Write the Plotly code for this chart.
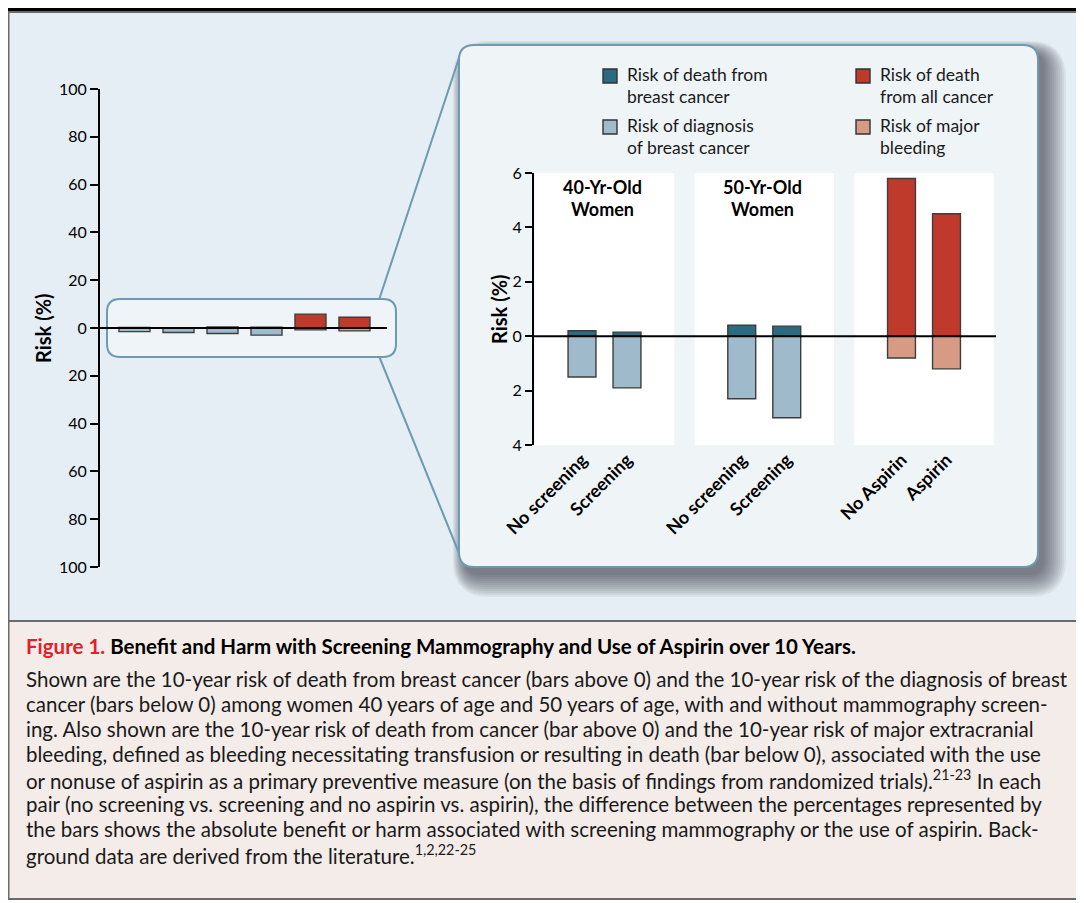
import plotly.graph_objects as go

# page offset of the plot div (default body margin) and figure size
OX, OY = 8, 8
W, H = 1076, 895

# ---------------- data ----------------
categories = ["No screening", "Screening", "No screening", "Screening", "No Aspirin", "Aspirin"]
group_of_bar = [0, 0, 1, 1, 2, 2]
group_titles = [["40-Yr-Old", "Women"], ["50-Yr-Old", "Women"]]
death_risk = [0.2, 0.15, 0.4, 0.37, 5.8, 4.5]        # bars above 0 (%)
harm_risk = [1.5, 1.9, 2.3, 3.0, 0.8, 1.2]           # bars below 0 (%)
legend_labels = [["Risk of death from", "breast cancer"],
                 ["Risk of diagnosis", "of breast cancer"],
                 ["Risk of death", "from all cancer"],
                 ["Risk of major", "bleeding"]]
left_ticks = [-100, -80, -60, -40, -20, 0, 20, 40, 60, 80, 100]
right_ticks = [-4, -2, 0, 2, 4, 6]
caption_title = "Benefit and Harm with Screening Mammography and Use of Aspirin over 10 Years."
caption_lines = [
    "Shown are the 10-year risk of death from breast cancer (bars above 0) and the 10-year risk of the diagnosis of breast",
    "cancer (bars below 0) among women 40 years of age and 50 years of age, with and without mammography screen-",
    "ing. Also shown are the 10-year risk of death from cancer (bar above 0) and the 10-year risk of major extracranial",
    "bleeding, defined as bleeding necessitating transfusion or resulting in death (bar below 0), associated with the use",
    "or nonuse of aspirin as a primary preventive measure (on the basis of findings from randomized trials).<sup>21-23</sup> In each",
    "pair (no screening vs. screening and no aspirin vs. aspirin), the difference between the percentages represented by",
    "the bars shows the absolute benefit or harm associated with screening mammography or the use of aspirin. Back-",
    "ground data are derived from the literature.<sup>1,2,22-25</sup>",
]

# ---------------- styles ----------------
FONT = "Lato"
TEAL = "#2a6b80"
LBLUE = "#9fbaca"
RED = "#bf3a2a"
SALMON = "#d69a85"
OUTLINE = "#3d3d3d"
BORDER = "#6e9ab0"
BG = "#e5eef4"
PANEL = "#eff4f7"
CAPBG = "#f4ece8"

def px(x):
    return (x - OX) / W

def py(y):
    return 1 - (y - OY) / H

def rrect(x0, y0, x1, y1, r):
    pts = [("M", [(x0 + r, y0)]), ("L", [(x1 - r, y0)]), ("Q", [(x1, y0), (x1, y0 + r)]),
           ("L", [(x1, y1 - r)]), ("Q", [(x1, y1), (x1 - r, y1)]), ("L", [(x0 + r, y1)]),
           ("Q", [(x0, y1), (x0, y1 - r)]), ("L", [(x0, y0 + r)]), ("Q", [(x0, y0), (x0 + r, y0)])]
    s = ""
    for cmd, ps in pts:
        s += cmd + " " + " ".join(f"{px(a):.5f},{py(b):.5f}" for a, b in ps) + " "
    return s + "Z"

up_colors = [TEAL if g < 2 else RED for g in group_of_bar]
down_colors = [LBLUE if g < 2 else SALMON for g in group_of_bar]

# positions (layout): left chart evenly spaced, right chart grouped
left_pos = list(range(len(categories)))
GSTEP = 3.55
right_pos = [g * GSTEP + (i % 2) for i, g in enumerate(group_of_bar)]

fig = go.Figure()
for xa, ya, pos, wd in [("x", "y", left_pos, 0.705), ("x2", "y2", right_pos, 0.62)]:
    fig.add_trace(go.Bar(x=pos, y=death_risk, xaxis=xa, yaxis=ya, width=wd,
                         marker=dict(color=up_colors, line=dict(color=OUTLINE, width=1.4))))
    fig.add_trace(go.Bar(x=pos, y=[-v for v in harm_risk], xaxis=xa, yaxis=ya, width=wd,
                         marker=dict(color=down_colors, line=dict(color=OUTLINE, width=1.4))))

shapes = []
# backgrounds
shapes.append(dict(type="rect", xref="paper", yref="paper", x0=px(8), x1=px(1095), y0=py(621), y1=py(12),
                   fillcolor=BG, line=dict(width=0), layer="below"))
shapes.append(dict(type="rect", xref="paper", yref="paper", x0=px(8), x1=px(1095), y0=py(899), y1=py(621),
                   fillcolor=CAPBG, line=dict(width=0), layer="below"))
shapes.append(dict(type="rect", xref="paper", yref="paper", x0=px(8.5), x1=px(1095), y0=py(899), y1=py(12),
                   line=dict(color="#6a6a6a", width=2), layer="below"))
shapes.append(dict(type="line", xref="paper", yref="paper", x0=px(8), x1=px(1095), y0=py(621), y1=py(621),
                   line=dict(color="#6a6a6a", width=2), layer="below"))
shapes.append(dict(type="line", xref="paper", yref="paper", x0=px(8), x1=px(1095), y0=py(9.5), y1=py(9.5),
                   line=dict(color="black", width=3), layer="below"))
# right panel shadow (layered soft rectangles, mostly to the lower right)
PX0, PY0, PX1, PY1 = 459, 45, 1038, 567
for k in range(12):
    e = 2.0 * k
    shapes.append(dict(type="path", xref="paper", yref="paper",
                       path=rrect(PX0 + 6 - 0.55 * e, PY0 + 8 - 0.55 * e, PX1 + 6 + e, PY1 + 8 + e, 15 + e),
                       fillcolor="rgba(45,52,60,0.065)", line=dict(width=0), layer="below"))
# connector lines
shapes.append(dict(type="line", xref="paper", yref="paper", x0=px(379), y0=py(300), x1=px(461), y1=py(52),
                   line=dict(color=BORDER, width=2), layer="below"))
shapes.append(dict(type="line", xref="paper", yref="paper", x0=px(379), y0=py(356), x1=px(461), y1=py(558),
                   line=dict(color=BORDER, width=2), layer="below"))
# left zoom box
shapes.append(dict(type="path", xref="paper", yref="paper", path=rrect(107, 299, 396, 357, 13),
                   fillcolor="#eef4f8", line=dict(color=BORDER, width=2), layer="below"))
# right panel
shapes.append(dict(type="path", xref="paper", yref="paper", path=rrect(PX0, PY0, PX1, PY1, 15),
                   fillcolor=PANEL, line=dict(color=BORDER, width=2), layer="below"))
# white group panels
for g in range(3):
    c = g * GSTEP + 0.5
    shapes.append(dict(type="rect", xref="x2", yref="y2", x0=max(c - 1.55, -1.0667), x1=c + 1.55,
                       y0=right_ticks[0], y1=right_ticks[-1], fillcolor="white", line=dict(width=0),
                       layer="below"))
# zero lines
shapes.append(dict(type="line", xref="x domain", yref="y", x0=0, x1=1, y0=0, y1=0,
                   line=dict(color="black", width=2), layer="above"))
shapes.append(dict(type="line", xref="x2 domain", yref="y2", x0=0, x1=1, y0=0, y1=0,
                   line=dict(color="black", width=2), layer="above"))
# legend squares
leg_colors = [TEAL, LBLUE, RED, SALMON]
leg_pos = [(603, 69), (603, 120), (856, 69), (856, 120)]
for (lx, ly), col in zip(leg_pos, leg_colors):
    shapes.append(dict(type="rect", xref="paper", yref="paper", x0=px(lx), x1=px(lx + 14),
                       y0=py(ly + 14), y1=py(ly), fillcolor=col, line=dict(color="#333333", width=1.4),
                       layer="above"))

annotations = []
for (lx, ly), lines in zip(leg_pos, legend_labels):
    for k, t in enumerate(lines):
        annotations.append(dict(xref="paper", yref="paper", x=px(lx + 22), y=py(ly + 6 + 21.5 * k), text=t,
                                showarrow=False, xanchor="left", yanchor="middle",
                                font=dict(family=FONT, size=17.5, color="#1a1a1a")))
for g, lines in enumerate(group_titles):
    c = g * GSTEP + 0.5
    for k, t in enumerate(lines):
        annotations.append(dict(xref="x2", yref="paper", x=c - 0.05, y=py(187 + 22 * k), text=t,
                                showarrow=False, xanchor="center", yanchor="middle",
                                font=dict(family=FONT, size=18, color="black", weight="bold")))
for ax_x, ax_y in [(43, 328), (499, 309)]:
    annotations.append(dict(xref="paper", yref="paper", x=px(ax_x), y=py(ax_y), text="Risk (%)",
                            textangle=-90, showarrow=False, xanchor="center", yanchor="middle",
                            font=dict(family=FONT, size=20, color="black", weight="bold")))
annotations.append(dict(xref="paper", yref="paper", x=px(24), y=py(646),
                        text="<span style='color:#e3202a'>Figure 1.</span> " + caption_title,
                        showarrow=False, xanchor="left", yanchor="middle",
                        font=dict(family=FONT, size=20.5, color="black", weight="bold")))
for k, t in enumerate(caption_lines):
    annotations.append(dict(xref="paper", yref="paper", x=px(24), y=py(679 + 25 * k), text=t,
                            showarrow=False, xanchor="left", yanchor="middle",
                            font=dict(family=FONT, size=20.5, color="#1a1a1a")))

axis_common = dict(showgrid=False, zeroline=False, fixedrange=True, automargin=False)
fig.update_layout(
    width=W, height=H, margin=dict(l=0, r=0, t=0, b=0, pad=0, autoexpand=False),
    paper_bgcolor="white", plot_bgcolor="rgba(0,0,0,0)",
    barmode="relative", showlegend=False, hovermode=False,
    font=dict(family=FONT, color="black"),
    xaxis=dict(domain=[px(100), px(387)], range=[-0.784, 5.739], showticklabels=False,
               showline=False, ticks="", anchor="y", **axis_common),
    yaxis=dict(domain=[py(567), py(89)], range=[-100, 100], tickvals=left_ticks,
               ticktext=[str(abs(v)) for v in left_ticks], showline=True, linecolor="black",
               linewidth=2, ticks="outside", ticklen=8, tickwidth=2, tickcolor="black",
               tickfont=dict(family=FONT, size=16, color="black"), anchor="x", **axis_common),
    xaxis2=dict(domain=[px(534), px(996)], range=[-1.0667, 9.2], tickvals=right_pos,
                ticktext=categories, tickangle=-45, ticks="", showline=False,
                tickfont=dict(family=FONT, size=18, color="black", weight="bold"),
                anchor="y2", **axis_common),
    yaxis2=dict(domain=[py(445), py(173)], range=[right_ticks[0], right_ticks[-1]], tickvals=right_ticks,
                ticktext=[str(abs(v)) for v in right_ticks], showline=True, linecolor="black",
                linewidth=2, ticks="outside", ticklen=7, tickwidth=2, tickcolor="black",
                tickfont=dict(family=FONT, size=16, color="black"), anchor="x2", **axis_common),
    shapes=shapes, annotations=annotations,
)

fig.write_html("out.html", config={"displayModeBar": False})
